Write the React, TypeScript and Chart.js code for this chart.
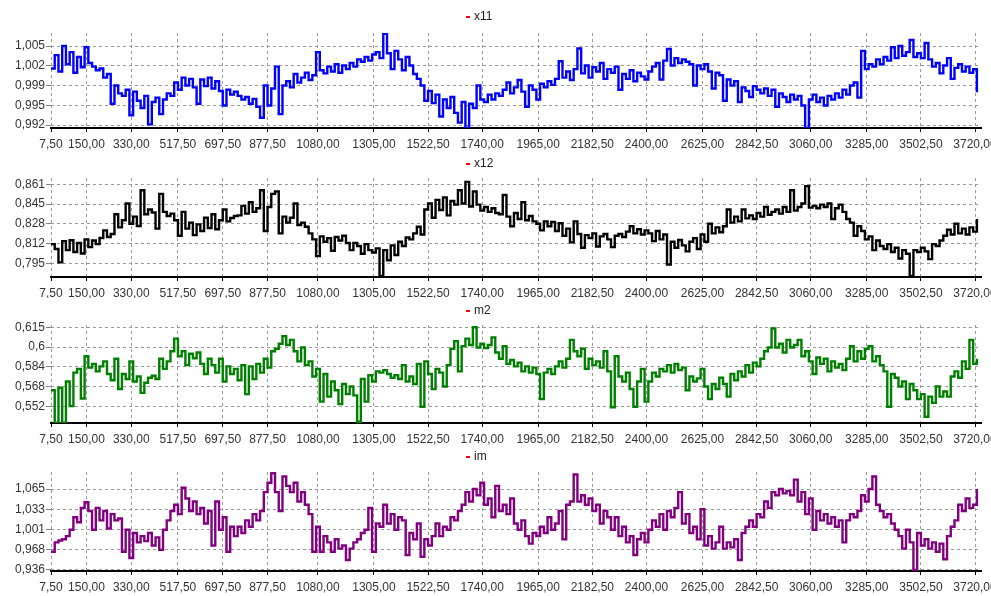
import React, { useEffect, useRef } from "react";
import { Chart, registerables } from "chart.js";

Chart.register(...registerables);

// ---------- data ----------
const X_START = 7.5;
const X_STEP = 15;
const X_MIN = 7.5;
const X_MAX = 3744;

const xTickValues = [7.5, 150, 330, 517.5, 697.5, 877.5, 1080, 1305, 1522.5, 1740, 1965, 2182.5, 2400, 2625, 2842.5, 3060, 3285, 3502.5, 3720];

const x11Values = [
  1.0013, 1.0035, 1.0008, 1.0050, 1.0020, 1.0040, 1.0006, 1.0032, 1.0015, 1.0048,
  1.0022, 1.0016, 1.0010, 1.0013, 0.9998, 1.0004, 0.9955, 0.9985, 0.9972, 0.9968,
  0.9978, 0.9936, 0.9975, 0.9960, 0.9948, 0.9968, 0.9921, 0.9958, 0.9965, 0.9938,
  0.9962, 0.9972, 0.9968, 0.9990, 0.9978, 0.9998, 0.9985, 0.9996, 0.9982, 0.9955,
  0.9995, 0.9984, 0.9998, 0.9980, 0.9992, 0.9976, 0.9952, 0.9978, 0.9970, 0.9975,
  0.9968, 0.9962, 0.9966, 0.9955, 0.9963, 0.9950, 0.9932, 0.9985, 0.9952, 0.9980,
  1.0016, 0.9938, 0.9985, 0.9992, 0.9982, 1.0004, 0.9990, 0.9998, 1.0006, 0.9994,
  1.0002, 1.0040, 1.0010, 1.0005, 1.0016, 1.0008, 1.0020, 1.0006, 1.0018, 1.0012,
  1.0022, 1.0016, 1.0028, 1.0024, 1.0032, 1.0026, 1.0036, 1.0040, 1.0030, 1.0070,
  1.0038, 1.0012, 1.0042, 1.0028, 1.0010, 1.0032, 1.0018, 1.0004, 0.9996, 0.9985,
  0.9960, 0.9976, 0.9956, 0.9970, 0.9934, 0.9962, 0.9948, 0.9966, 0.9940, 0.9924,
  0.9958, 0.9915, 0.9955, 0.9948, 0.9985, 0.9962, 0.9958, 0.9970, 0.9962, 0.9972,
  0.9968, 0.9978, 0.9990, 0.9972, 0.9982, 0.9994, 0.9975, 0.9950, 0.9985, 0.9978,
  0.9962, 0.9988, 0.9982, 0.9992, 0.9986, 0.9996, 1.0025, 0.9998, 1.0008, 0.9994,
  1.0012, 1.0046, 1.0005, 1.0018, 0.9998, 1.0015, 1.0008, 1.0022, 0.9996, 1.0012,
  1.0006, 1.0016, 0.9978, 1.0004, 0.9996, 1.0010, 0.9992, 1.0006, 1.0000, 0.9995,
  1.0008, 1.0016, 1.0022, 0.9995, 1.0026, 1.0045, 1.0018, 1.0030, 1.0022, 1.0028,
  1.0024, 1.0020, 0.9985, 1.0018, 1.0012, 1.0020, 1.0008, 0.9980, 1.0006, 1.0002,
  0.9960, 0.9995, 0.9985, 0.9992, 0.9958, 0.9982, 0.9976, 0.9966, 0.9984, 0.9978,
  0.9972, 0.9980, 0.9968, 0.9978, 0.9950, 0.9972, 0.9966, 0.9958, 0.9970, 0.9962,
  0.9968, 0.9952, 0.9915, 0.9962, 0.9970, 0.9958, 0.9965, 0.9952, 0.9968, 0.9962,
  0.9972, 0.9965, 0.9978, 0.9970, 0.9985, 0.9990, 0.9965, 1.0042, 1.0012, 1.0020,
  1.0016, 1.0028, 1.0020, 1.0032, 1.0026, 1.0048, 1.0030, 1.0050, 1.0034, 1.0040,
  1.0060, 1.0032, 1.0038, 1.0030, 1.0055, 1.0028, 1.0016, 1.0022, 1.0005, 1.0018,
  1.0030, 0.9996, 1.0014, 1.0020, 1.0008, 1.0016, 1.0006, 1.0012, 0.9974,
];

const x12Values = [
  0.8110, 0.8070, 0.7958, 0.8135, 0.8060, 0.8142, 0.8045, 0.8120, 0.8032, 0.8150,
  0.8085, 0.8140, 0.8110, 0.8162, 0.8225, 0.8170, 0.8195, 0.8360, 0.8250, 0.8310,
  0.8450, 0.8280, 0.8340, 0.8262, 0.8560, 0.8360, 0.8400, 0.8375, 0.8240, 0.8530,
  0.8380, 0.8345, 0.8365, 0.8310, 0.8180, 0.8380, 0.8240, 0.8290, 0.8185, 0.8275,
  0.8220, 0.8330, 0.8245, 0.8360, 0.8235, 0.8310, 0.8400, 0.8300, 0.8328, 0.8345,
  0.8350, 0.8430, 0.8365, 0.8460, 0.8380, 0.8410, 0.8560, 0.8220, 0.8420, 0.8530,
  0.8550, 0.8200, 0.8340, 0.8290, 0.8330, 0.8450, 0.8270, 0.8290, 0.8255, 0.8200,
  0.8150, 0.8010, 0.8175, 0.8130, 0.8160, 0.8055, 0.8170, 0.8140, 0.8180, 0.8120,
  0.8060, 0.8120, 0.8095, 0.8030, 0.8110, 0.8060, 0.8040, 0.8075, 0.7845, 0.8060,
  0.7975, 0.8100, 0.8020, 0.8130, 0.8095, 0.8165, 0.8150, 0.8200, 0.8255, 0.8190,
  0.8400, 0.8450, 0.8330, 0.8480, 0.8395, 0.8500, 0.8350, 0.8470, 0.8440, 0.8560,
  0.8450, 0.8630, 0.8425, 0.8550, 0.8440, 0.8390, 0.8420, 0.8380, 0.8410, 0.8370,
  0.8360, 0.8520, 0.8340, 0.8260, 0.8370, 0.8320, 0.8460, 0.8310, 0.8345, 0.8300,
  0.8280, 0.8225, 0.8300, 0.8260, 0.8295, 0.8220, 0.8285, 0.8180, 0.8240, 0.8125,
  0.8300, 0.8195, 0.8080, 0.8185, 0.8160, 0.8200, 0.8090, 0.8175, 0.8195, 0.8150,
  0.8085, 0.8180, 0.8195, 0.8170, 0.8215, 0.8260, 0.8200, 0.8235, 0.8190, 0.8225,
  0.8200, 0.8135, 0.8220, 0.8150, 0.8190, 0.7940, 0.8130, 0.8080, 0.8145, 0.8100,
  0.8050, 0.8130, 0.8160, 0.8070, 0.8190, 0.8130, 0.8280, 0.8200, 0.8250, 0.8210,
  0.8260, 0.8400, 0.8290, 0.8340, 0.8300, 0.8400, 0.8325, 0.8350, 0.8320, 0.8370,
  0.8340, 0.8420, 0.8355, 0.8380, 0.8400, 0.8365, 0.8420, 0.8380, 0.8560, 0.8390,
  0.8420, 0.8450, 0.8595, 0.8415, 0.8430, 0.8410, 0.8440, 0.8420, 0.8450, 0.8320,
  0.8410, 0.8440, 0.8380, 0.8320, 0.8290, 0.8180, 0.8260, 0.8220, 0.8150, 0.8175,
  0.8060, 0.8140, 0.8095, 0.8070, 0.8110, 0.8045, 0.8080, 0.7990, 0.8060, 0.8030,
  0.7845, 0.8060, 0.8045, 0.8080, 0.8050, 0.7985, 0.8110, 0.8095, 0.8140, 0.8180,
  0.8230, 0.8190, 0.8280, 0.8200, 0.8240, 0.8190, 0.8250, 0.8215, 0.8320,
];

const m2Values = [
  0.5650, 0.5392, 0.5670, 0.5392, 0.5720, 0.5525, 0.5790, 0.5820, 0.5585, 0.5920,
  0.5830, 0.5860, 0.5800, 0.5840, 0.5880, 0.5780, 0.5730, 0.5900, 0.5660, 0.5780,
  0.5740, 0.5880, 0.5720, 0.5760, 0.5630, 0.5710, 0.5750, 0.5765, 0.5740, 0.5900,
  0.5820, 0.5880, 0.5960, 0.6060, 0.5920, 0.5960, 0.5850, 0.5940, 0.5905, 0.5950,
  0.5860, 0.5780, 0.5900, 0.5850, 0.5790, 0.5900, 0.5720, 0.5840, 0.5780, 0.5820,
  0.5730, 0.5850, 0.5620, 0.5840, 0.5740, 0.5860, 0.5790, 0.5900, 0.5830, 0.5960,
  0.5980, 0.6020, 0.6080, 0.6010, 0.6050, 0.5960, 0.5880, 0.5990, 0.5850, 0.5880,
  0.5760, 0.5820, 0.5560, 0.5780, 0.5600, 0.5720, 0.5650, 0.5540, 0.5700, 0.5620,
  0.5680, 0.5610, 0.5400, 0.5740, 0.5560, 0.5770, 0.5720, 0.5800, 0.5790, 0.5810,
  0.5780, 0.5750, 0.5770, 0.5740, 0.5850, 0.5720, 0.5760, 0.5700, 0.5860, 0.5520,
  0.5880, 0.5780, 0.5660, 0.5820, 0.5790, 0.5680, 0.5850, 0.5980, 0.6040, 0.5800,
  0.6000, 0.6060, 0.6010, 0.6150, 0.5990, 0.6020, 0.5985, 0.6010, 0.6070, 0.5950,
  0.5900, 0.6000, 0.5860, 0.5890, 0.5840, 0.5870, 0.5800, 0.5840, 0.5790, 0.5830,
  0.5780, 0.5580, 0.5790, 0.5820, 0.5780, 0.5840, 0.5880, 0.5830, 0.5900, 0.6050,
  0.5960, 0.5920, 0.5980, 0.5820, 0.5900, 0.5850, 0.5880, 0.5830, 0.5960, 0.5800,
  0.5515, 0.5920, 0.5760, 0.5720, 0.5790, 0.5660, 0.5520, 0.5720, 0.5820, 0.5560,
  0.5720, 0.5790, 0.5760, 0.5820, 0.5800, 0.5850, 0.5790, 0.5860, 0.5810, 0.5830,
  0.5650, 0.5760, 0.5720, 0.5745, 0.5820, 0.5680, 0.5580, 0.5700, 0.5660, 0.5750,
  0.5700, 0.5600, 0.5780, 0.5730, 0.5800, 0.5760, 0.5850, 0.5790, 0.5870, 0.5840,
  0.5900, 0.5960, 0.5990, 0.6140, 0.5990, 0.6020, 0.5950, 0.6050, 0.5990, 0.6010,
  0.6050, 0.5920, 0.5960, 0.5880, 0.5780, 0.5910, 0.5860, 0.5900, 0.5800, 0.5880,
  0.5830, 0.5860, 0.5810, 0.5900, 0.6000, 0.5880, 0.5960, 0.5900, 0.5980, 0.6000,
  0.5880, 0.5920, 0.5850, 0.5800, 0.5520, 0.5780, 0.5750, 0.5680, 0.5720, 0.5580,
  0.5700, 0.5650, 0.5580, 0.5620, 0.5440, 0.5600, 0.5550, 0.5680, 0.5600, 0.5640,
  0.5600, 0.5760, 0.5800, 0.5750, 0.5880, 0.5820, 0.6050, 0.5860, 0.5900,
];

const imValues = [
  0.9650, 0.9800, 0.9830, 0.9850, 0.9900, 1.0000, 1.0200, 1.0120, 1.0350, 1.0440,
  1.0300, 1.0000, 1.0350, 1.0150, 1.0300, 1.0020, 1.0250, 1.0150, 1.0180, 0.9650,
  1.0000, 0.9550, 0.9950, 0.9800, 0.9900, 0.9820, 0.9950, 0.9750, 0.9880, 0.9680,
  1.0000, 1.0150, 1.0300, 1.0400, 1.0250, 1.0670, 1.0500, 1.0300, 1.0450, 1.0250,
  1.0350, 1.0100, 1.0300, 0.9750, 1.0450, 1.0000, 1.0200, 0.9650, 1.0050, 0.9900,
  1.0050, 0.9950, 1.0150, 1.0050, 1.0250, 1.0150, 1.0300, 1.0600, 1.0750, 1.0900,
  1.0600, 1.0300, 1.0850, 1.0700, 1.0600, 1.0750, 1.0450, 1.0600, 1.0400, 1.0250,
  0.9650, 1.0050, 0.9650, 0.9900, 0.9800, 0.9650, 0.9850, 0.9700, 0.9750, 0.9520,
  0.9700, 0.9800, 0.9850, 0.9950, 1.0000, 1.0350, 0.9650, 1.0100, 1.0050, 1.0400,
  1.0100, 1.0250, 1.0000, 1.0200, 1.0150, 0.9600, 0.9950, 0.9850, 1.0100, 0.9570,
  0.9850, 0.9750, 0.9900, 1.0100, 0.9900, 1.0050, 1.0000, 1.0200, 1.0150, 1.0300,
  1.0400, 1.0600, 1.0450, 1.0650, 1.0550, 1.0750, 1.0400, 1.0500, 1.0200, 1.0700,
  1.0300, 1.0400, 1.0250, 1.0500, 1.0100, 1.0000, 1.0150, 0.9900, 0.9780, 0.9950,
  0.9900, 1.0050, 0.9950, 1.0200, 1.0000, 1.0100, 1.0300, 0.9850, 1.0400, 1.0450,
  1.0880, 1.0450, 1.0550, 1.0400, 1.0500, 1.0300, 1.0400, 1.0100, 1.0300, 1.0200,
  1.0000, 1.0200, 0.9900, 1.0050, 0.9800, 0.9900, 0.9600, 0.9850, 0.9950, 0.9800,
  1.0000, 1.0150, 1.0050, 1.0250, 1.0000, 1.0300, 1.0200, 1.0350, 1.0600, 1.0100,
  1.0250, 0.9950, 1.0050, 0.9850, 1.0330, 0.9750, 0.9900, 0.9700, 0.9800, 1.0050,
  0.9700, 0.9800, 0.9720, 0.9850, 0.9520, 0.9950, 1.0050, 1.0150, 1.0050, 1.0250,
  1.0200, 1.0450, 1.0350, 1.0600, 1.0550, 1.0650, 1.0580, 1.0620, 1.0550, 1.0800,
  1.0450, 1.0600, 1.0250, 1.0500, 1.0000, 1.0300, 1.0150, 1.0250, 1.0100, 1.0200,
  1.0050, 1.0150, 0.9800, 1.0150, 1.0250, 1.0200, 1.0300, 1.0550, 1.0450, 1.0650,
  1.0850, 1.0400, 1.0300, 1.0200, 1.0250, 1.0100, 1.0000, 0.9900, 0.9700, 1.0000,
  0.9800, 0.9360, 0.9950, 0.9750, 0.9850, 0.9700, 0.9800, 0.9650, 0.9780, 0.9530,
  0.9900, 1.0050, 1.0150, 1.0400, 1.0300, 1.0500, 1.0350, 1.0400, 1.0650,
];

const x11TickValues = [0.992, 0.99525, 0.9985, 1.00175, 1.005];
const x11TickLabels = ["0,992", "0,995", "0,999", "1,002", "1,005"];
const x12TickValues = [0.795, 0.8115, 0.828, 0.8445, 0.861];
const x12TickLabels = ["0,795", "0,812", "0,828", "0,845", "0,861"];
const m2TickValues = [0.552, 0.56775, 0.5835, 0.59925, 0.615];
const m2TickLabels = ["0,552", "0,568", "0,584", "0,6", "0,615"];
const imTickValues = [0.936, 0.96825, 1.0005, 1.03275, 1.065];
const imTickLabels = ["0,936", "0,968", "1,001", "1,033", "1,065"];

// ---------- layout / style ----------
const FONT = '"Liberation Sans", Arial, sans-serif';
const PAGE_W = 991;
const AREA_LEFT = 51;
const AREA_RIGHT = 981;

type PanelDef = {
  label: string;
  values: number[];
  color: string;
  yMin: number;
  yMax: number;
  yTicks: number[];
  yLabels: string[];
  canvasTop: number;
  canvasHeight: number;
  areaTop: number;
  areaBottom: number;
  titleY: number;
};

const PANELS: PanelDef[] = [
  { label: "x11", values: x11Values, color: "#0000FF", yMin: 0.99151, yMax: 1.00714, yTicks: x11TickValues, yLabels: x11TickLabels, canvasTop: 0, canvasHeight: 150, areaTop: 33, areaBottom: 128, titleY: 17 },
  { label: "x12", values: x12Values, color: "#000000", yMin: 0.78356, yMax: 0.86626, yTicks: x12TickValues, yLabels: x12TickLabels, canvasTop: 148, canvasHeight: 150, areaTop: 178, areaBottom: 277, titleY: 164 },
  { label: "m2", values: m2Values, color: "#008000", yMin: 0.53906, yMax: 0.61683, yTicks: m2TickValues, yLabels: m2TickLabels, canvasTop: 298, canvasHeight: 147, areaTop: 325, areaBottom: 423, titleY: 311 },
  { label: "im", values: imValues, color: "#800080", yMin: 0.9344, yMax: 1.0921, yTicks: imTickValues, yLabels: imTickLabels, canvasTop: 445, canvasHeight: 151, areaTop: 472, areaBottom: 571, titleY: 457 },
];

const fmtX = (v: number) => v.toFixed(2).replace(".", ",");

const panelTitlePlugin = {
  id: "panelTitle",
  afterDraw(chart: any, _args: any, opts: any) {
    const ctx = chart.ctx;
    ctx.save();
    ctx.fillStyle = "#FF0000";
    ctx.fillRect(opts.x - 8, opts.y - 1, 4, 2);
    ctx.fillStyle = "#222222";
    ctx.font = `12px ${FONT}`;
    ctx.textBaseline = "middle";
    ctx.textAlign = "left";
    ctx.fillText(opts.text, opts.x, opts.y);
    ctx.restore();
  },
};

function Panel({ p }: { p: PanelDef }) {
  const ref = useRef<HTMLCanvasElement | null>(null);
  useEffect(() => {
    if (!ref.current) return;
    const xAxisHeight = p.canvasHeight - (p.areaBottom - p.canvasTop);
    const chart = new Chart(ref.current, {
      type: "line",
      data: {
        datasets: [
          {
            label: p.label,
            data: p.values.map((v, i) => ({ x: X_START + i * X_STEP, y: v })),
            borderColor: p.color,
            backgroundColor: p.color,
            borderWidth: 2.4,
            pointRadius: 0,
            tension: 0,
            stepped: true,
            fill: false,
          },
        ],
      },
      plugins: [panelTitlePlugin],
      options: {
        animation: false,
        responsive: false,
        maintainAspectRatio: false,
        events: [],
        layout: { padding: { top: p.areaTop - p.canvasTop, left: 0, right: PAGE_W - AREA_RIGHT, bottom: 0 } },
        plugins: {
          legend: { display: false },
          tooltip: { enabled: false },
          panelTitle: { text: p.label, x: 474, y: p.titleY - p.canvasTop },
        } as any,
        scales: {
          x: {
            type: "linear",
            min: X_MIN,
            max: X_MAX,
            afterBuildTicks: (s: any) => {
              s.ticks = xTickValues.map((v) => ({ value: v }));
            },
            afterFit: (s: any) => {
              s.height = xAxisHeight;
              s.paddingLeft = 0;
              s.paddingRight = 0;
            },
            ticks: {
              autoSkip: false,
              maxRotation: 0,
              padding: 5,
              color: "#333333",
              font: { family: FONT, size: 12 },
              callback: (v: any) => fmtX(Number(v)),
            },
            grid: {
              color: "#9A9A9A",
              lineWidth: 1,
              drawTicks: true,
              tickLength: 4,
              tickColor: "#000000",
              tickWidth: 1,
              tickBorderDash: [],
            },
            border: { display: true, color: "#000000", width: 2, dash: [3, 3] },
          },
          y: {
            type: "linear",
            min: p.yMin,
            max: p.yMax,
            afterBuildTicks: (s: any) => {
              s.ticks = p.yTicks.map((v) => ({ value: v }));
            },
            afterFit: (s: any) => {
              s.width = AREA_LEFT;
              s.paddingTop = 0;
              s.paddingBottom = 0;
            },
            ticks: {
              padding: 1,
              color: "#333333",
              font: { family: FONT, size: 12 },
              callback: (_v: any, i: number) => p.yLabels[i],
            },
            grid: {
              color: "#9A9A9A",
              lineWidth: 1,
              drawTicks: true,
              tickLength: 5,
              tickColor: "#808080",
              tickWidth: 1,
              tickBorderDash: [],
            },
            border: { display: false, dash: [3, 3] },
          },
        },
      } as any,
    });
    return () => chart.destroy();
  }, [p]);
  return (
    <canvas
      ref={ref}
      width={PAGE_W}
      height={p.canvasHeight}
      style={{ position: "absolute", left: 0, top: p.canvasTop, width: PAGE_W, height: p.canvasHeight }}
    />
  );
}

export default function App() {
  return (
    <div style={{ position: "absolute", left: 0, top: 0, width: PAGE_W, height: 596, overflow: "hidden", background: "#FFFFFF" }}>
      {PANELS.map((p) => (
        <Panel key={p.label} p={p} />
      ))}
    </div>
  );
}
